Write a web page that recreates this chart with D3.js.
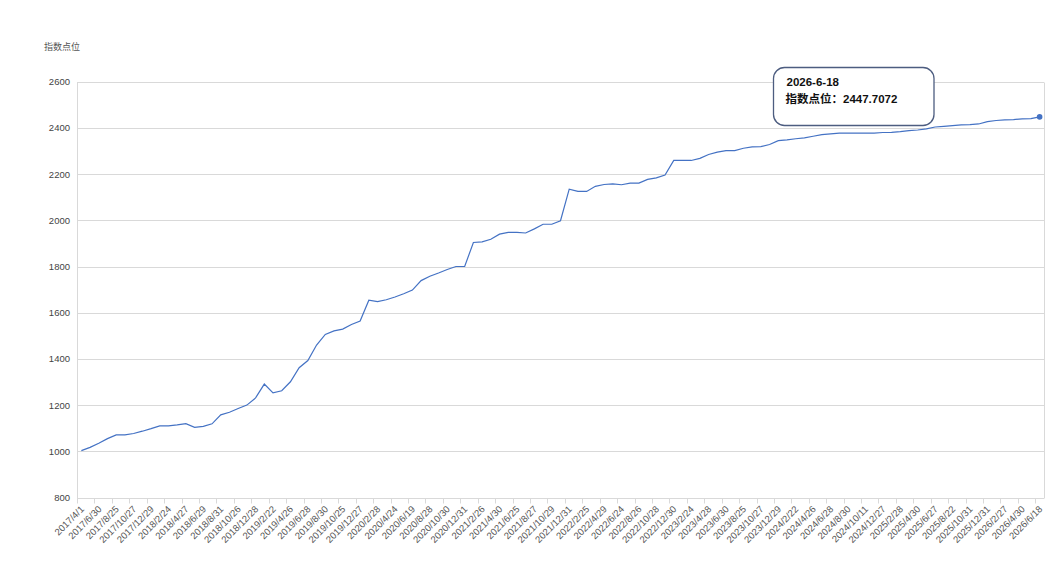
<!DOCTYPE html>
<html>
<head>
<meta charset="utf-8">
<script src="https://cdn.jsdelivr.net/npm/d3@7"></script>
<style>
  body { margin: 0; background: #fff; }
  svg text { font-family: "Liberation Sans", Arial, "Noto Sans CJK SC", sans-serif; }
</style>
</head>
<body>
<div class="chart"></div>
<script>
// monthly sample dates (every other one is shown on the axis)
const dates = [
  "2017/4/1", "2017/5/26", "2017/6/30", "2017/7/28", "2017/8/25", "2017/9/29",
  "2017/10/27", "2017/11/24", "2017/12/29", "2018/1/26", "2018/2/24", "2018/3/30",
  "2018/4/27", "2018/5/25", "2018/6/29", "2018/7/27", "2018/8/31", "2018/9/28",
  "2018/10/26", "2018/11/30", "2018/12/28", "2019/1/25", "2019/2/22", "2019/3/29",
  "2019/4/26", "2019/5/31", "2019/6/28", "2019/7/26", "2019/8/30", "2019/9/27",
  "2019/10/25", "2019/11/29", "2019/12/27", "2020/1/23", "2020/2/28", "2020/3/27",
  "2020/4/24", "2020/5/29", "2020/6/19", "2020/7/31", "2020/8/28", "2020/9/30",
  "2020/10/30", "2020/11/27", "2020/12/31", "2021/1/29", "2021/2/26", "2021/3/26",
  "2021/4/30", "2021/5/28", "2021/6/25", "2021/7/30", "2021/8/27", "2021/9/30",
  "2021/10/29", "2021/11/26", "2021/12/31", "2022/1/28", "2022/2/25", "2022/3/25",
  "2022/4/29", "2022/5/27", "2022/6/24", "2022/7/29", "2022/8/26", "2022/9/30",
  "2022/10/28", "2022/11/25", "2022/12/30", "2023/1/20", "2023/2/24", "2023/3/31",
  "2023/4/28", "2023/5/26", "2023/6/30", "2023/7/28", "2023/8/25", "2023/9/28",
  "2023/10/27", "2023/11/24", "2023/12/29", "2024/1/26", "2024/2/22", "2024/3/29",
  "2024/4/26", "2024/5/31", "2024/6/28", "2024/7/26", "2024/8/30", "2024/9/30",
  "2024/10/11", "2024/11/29", "2024/12/27", "2025/1/24", "2025/2/28", "2025/3/28",
  "2025/4/30", "2025/5/30", "2025/6/27", "2025/7/25", "2025/8/22", "2025/9/26",
  "2025/10/31", "2025/11/28", "2025/12/31", "2026/1/30", "2026/2/27", "2026/3/27",
  "2026/4/30", "2026/5/29", "2026/6/18"
];

const values = [
  1003, 1017, 1035, 1055, 1071, 1071, 1077, 1087, 1098, 1110,
  1110, 1114, 1120, 1104, 1108, 1119, 1158, 1169, 1185, 1200,
  1231, 1291, 1253, 1262, 1301, 1362, 1393, 1460, 1506, 1521,
  1529, 1549, 1564, 1654, 1648, 1656, 1668, 1682, 1698, 1739,
  1758, 1772, 1787, 1800, 1800, 1904, 1907, 1918, 1940, 1948,
  1948, 1945, 1963, 1983, 1983, 1998, 2135, 2125, 2125, 2147,
  2155, 2158, 2154, 2161, 2161, 2177, 2184, 2196, 2259, 2259,
  2259, 2268, 2285, 2295, 2302, 2302, 2312, 2318, 2319, 2328,
  2345, 2348, 2353, 2357, 2364, 2371, 2374, 2377, 2377, 2377,
  2377, 2377, 2380, 2381, 2384, 2388, 2391, 2396, 2404, 2407,
  2410, 2413, 2414, 2417, 2427, 2432, 2435, 2436, 2439, 2440,
  2447.7072
];

const yTicks = [800, 1000, 1200, 1400, 1600, 1800, 2000, 2200, 2400, 2600];
const yName = "指数点位";
const tipLabel = "指数点位：";

const w = 1055, h = 574;
const mLeft = 77, mRight = 1044, mTop = 81.7, mBottom = 497.5;
const gridColor = "#d9d9d9";
const lineColor = "#4472c4";

const data = dates.map((d, i) => ({ date: d, value: values[i] }));

const svg = d3.select(".chart")
  .append("svg")
  .attr("width", w)
  .attr("height", h);

const x = d3.scaleBand()
  .domain(dates)
  .range([mLeft, mRight])
  .paddingInner(0)
  .paddingOuter(0);

const y = d3.scaleLinear()
  .domain([800, 2600])
  .range([mBottom, mTop]);

// horizontal grid lines
svg.append("g")
  .selectAll("line")
  .data(yTicks)
  .enter()
  .append("line")
  .attr("x1", mLeft)
  .attr("x2", mRight)
  .attr("y1", d => Math.round(y(d)) + 0.5)
  .attr("y2", d => Math.round(y(d)) + 0.5)
  .style("stroke", gridColor)
  .style("stroke-width", 1);

// side borders
[mLeft, mRight].forEach(function (xx) {
  svg.append("line")
    .attr("x1", Math.round(xx) + 0.5)
    .attr("x2", Math.round(xx) + 0.5)
    .attr("y1", Math.round(y(2600)) + 0.5)
    .attr("y2", Math.round(y(800)) + 0.5)
    .style("stroke", gridColor);
});

// y axis labels
const yAxis = d3.axisLeft(y)
  .tickValues(yTicks)
  .tickFormat(d3.format("d"))
  .tickSize(0)
  .tickPadding(7);

svg.append("g")
  .attr("transform", "translate(" + mLeft + ",0)")
  .call(yAxis)
  .call(g => g.select(".domain").remove())
  .call(g => g.selectAll("text")
    .style("font-size", "9.5px")
    .style("fill", "#444"));

svg.append("text")
  .attr("x", 44)
  .attr("y", 50)
  .style("font-size", "9px")
  .style("fill", "#555")
  .text(yName);

// x axis: ticks on band edges, every other category labelled
const shown = dates.filter((d, i) => i % 2 === 0);

const xg = svg.append("g")
  .attr("transform", "translate(0," + (Math.round(mBottom) + 0.5) + ")");

xg.selectAll("line.tick")
  .data(shown)
  .enter()
  .append("line")
  .attr("class", "tick")
  .attr("x1", d => Math.round(x(d)) + 0.5)
  .attr("x2", d => Math.round(x(d)) + 0.5)
  .attr("y1", 0)
  .attr("y2", 5)
  .style("stroke", gridColor);

xg.selectAll("text")
  .data(shown)
  .enter()
  .append("text")
  .attr("transform", d => "translate(" + (x(d) + x.bandwidth() / 2) + ",8) rotate(-45)")
  .attr("text-anchor", "end")
  .attr("dy", "0.5em")
  .style("font-size", "9.5px")
  .style("fill", "#555")
  .text(d => d);

// the series line
const line = d3.line()
  .x(d => x(d.date) + x.bandwidth() / 2)
  .y(d => y(d.value));

svg.append("path")
  .datum(data)
  .attr("d", line)
  .style("fill", "none")
  .style("stroke", lineColor)
  .style("stroke-width", 1.2);

// highlighted last point with its tooltip
const last = data[data.length - 1];

svg.append("circle")
  .attr("cx", x(last.date) + x.bandwidth() / 2)
  .attr("cy", y(last.value))
  .attr("r", 2.8)
  .style("fill", lineColor);

const tip = svg.append("g")
  .attr("transform", "translate(773.5,67.5)");

tip.append("rect")
  .attr("width", 160.5)
  .attr("height", 58)
  .attr("rx", 11)
  .attr("ry", 11)
  .style("fill", "#fff")
  .style("stroke", "#4d5d80")
  .style("stroke-width", 1.3);

tip.append("text")
  .attr("x", 13)
  .attr("y", 18.5)
  .style("font-size", "11.5px")
  .style("font-weight", "bold")
  .style("fill", "#111")
  .text(last.date.replace(/\//g, "-"));

tip.append("text")
  .attr("x", 12)
  .attr("y", 35)
  .style("font-size", "11.5px")
  .style("font-weight", "bold")
  .style("fill", "#111")
  .text(tipLabel + last.value.toFixed(4));
</script>
</body>
</html>
